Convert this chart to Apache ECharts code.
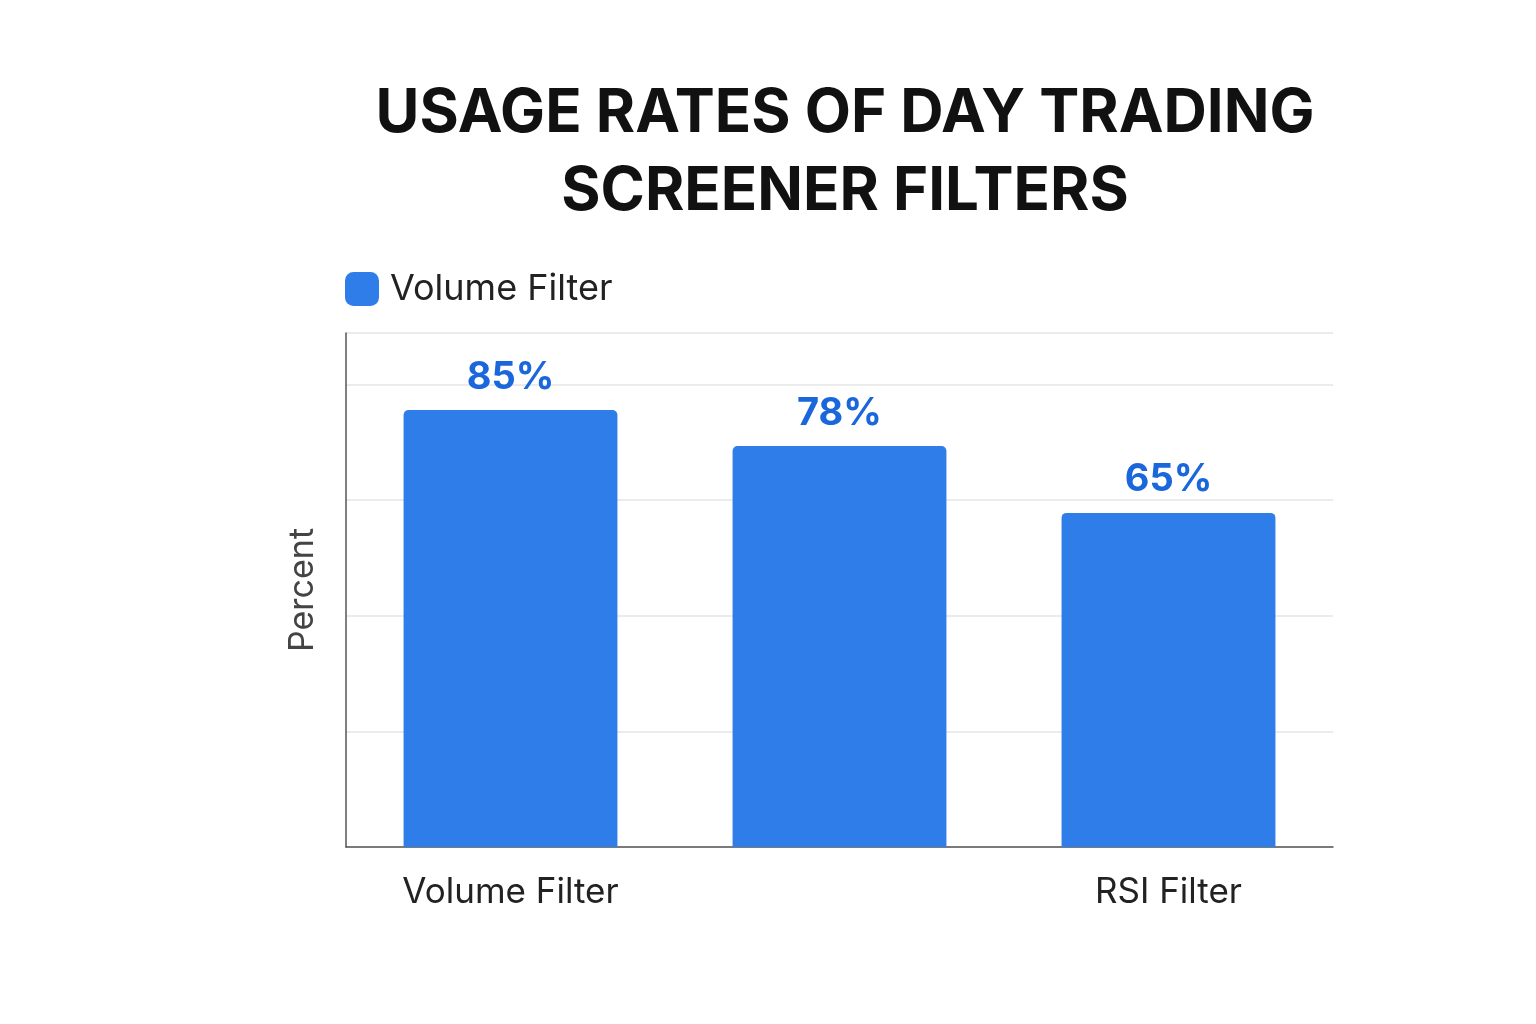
<!DOCTYPE html>
<html>
<head>
<meta charset="utf-8">
<script src="https://cdn.jsdelivr.net/npm/echarts@6/dist/echarts.min.js"></script>
<style>html,body{margin:0;padding:0;background:#fff}#main{width:1536px;height:1024px}</style>
</head>
<body>
<div id="main"></div>
<script>
var categories = ["Volume Filter", "Price Movement\nFilter", "RSI Filter"];
var usage = [85, 78, 65];
var seriesName = "Volume Filter";

var myChart = echarts.init(document.getElementById("main"));

var option = {
  backgroundColor: "#fff",
  textStyle: { fontFamily: "Inter, 'Noto Sans', sans-serif" },
  title: {
    text: "USAGE RATES OF DAY TRADING\nSCREENER FILTERS",
    left: 840,
    top: 70,
    textAlign: "center",
    textStyle: { fontSize: 60, fontWeight: "bold", color: "#111", lineHeight: 78 }
  },
  legend: {
    data: [seriesName],
    left: 340,
    top: 266,
    itemWidth: 34,
    itemHeight: 34,
    itemGap: 20,
    icon: "roundRect",
    textStyle: { fontSize: 36, color: "#222", padding: [0, 0, 0, 6] }
  },
  grid: { left: 346, right: 203, top: 333, bottom: 177 },
  xAxis: {
    type: "category",
    data: categories,
    axisLine: { lineStyle: { color: "#555", width: 1.5 } },
    axisTick: { show: false },
    axisLabel: { fontSize: 35, color: "#222", margin: 22, lineHeight: 46 }
  },
  yAxis: {
    type: "value",
    min: 0,
    max: 100,
    interval: 22.5,
    name: "Percent",
    nameLocation: "middle",
    nameGap: 26,
    nameTextStyle: { fontSize: 34, color: "#444" },
    axisLine: { show: true, lineStyle: { color: "#555", width: 1.5 } },
    axisLabel: { show: false },
    axisTick: { show: false },
    splitLine: { lineStyle: { color: "#e4e4e4", width: 1.5 } }
  },
  series: [{
    name: seriesName,
    type: "bar",
    data: usage,
    barWidth: "65%",
    itemStyle: { color: "#2F7DE9", borderRadius: [5, 5, 0, 0] },
    label: {
      show: true,
      position: "top",
      distance: 14,
      formatter: "{c}%",
      fontSize: 38,
      fontWeight: "bold",
      color: "#1A66DB"
    }
  }]
};

myChart.setOption(option);
</script>
</body>
</html>
